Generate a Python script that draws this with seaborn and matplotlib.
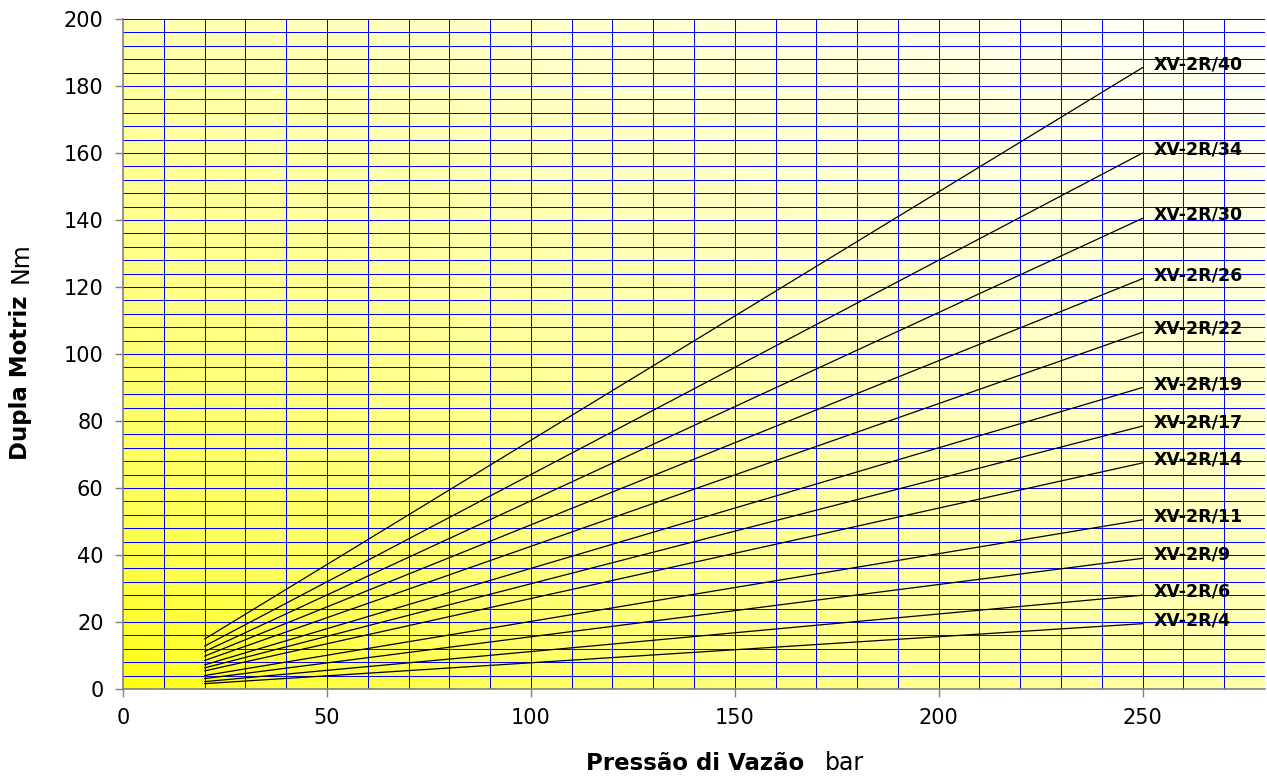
import numpy as np
import pandas as pd
import matplotlib
matplotlib.use("Agg")
import matplotlib.pyplot as plt
from matplotlib.colors import LinearSegmentedColormap
import seaborn as sns

# Values
models = ["XV-2R/4", "XV-2R/6", "XV-2R/9", "XV-2R/11", "XV-2R/14", "XV-2R/17",
          "XV-2R/19", "XV-2R/22", "XV-2R/26", "XV-2R/30", "XV-2R/34", "XV-2R/40"]
pressure = [20, 250]
torque_start = [1.6, 2.2, 3.1, 4.0, 5.4, 6.3, 7.2, 8.5, 9.8, 11.2, 12.8, 14.9]
torque_end = [19.5, 28.0, 39.0, 50.5, 67.5, 78.5, 90.0, 106.5, 122.5, 140.5, 160.0, 185.5]

x_ticks = [0, 50, 100, 150, 200, 250]
y_ticks = [0, 20, 40, 60, 80, 100, 120, 140, 160, 180, 200]

sns.set_style("white")
plt.rcParams["font.family"] = ["DejaVu Sans"]
plt.rcParams["text.color"] = "black"
plt.rcParams["xtick.labelcolor"] = "black"
plt.rcParams["ytick.labelcolor"] = "black"

rows = []
for m, t0, t1 in zip(models, torque_start, torque_end):
    rows.append({"model": m, "pressure": pressure[0], "torque": t0})
    rows.append({"model": m, "pressure": pressure[1], "torque": t1})
df = pd.DataFrame(rows)

fig = plt.figure(figsize=(12.67, 7.78), dpi=100)
ax = fig.add_axes([0.0971, 0.1144, 0.9013, 0.8612])

# yellow -> white diagonal background
gx, gy = np.meshgrid(np.linspace(0, 1, 400), np.linspace(0, 1, 300))
t = ((gx + gy) / 2) ** 0.55
cmap = LinearSegmentedColormap.from_list("yw", ["#ffff00", "#fffffa"])
ax.imshow(t, cmap=cmap, extent=[0, 280, 0, 200], origin="lower",
          aspect="auto", zorder=0, vmin=0, vmax=1)

# grid, crisp 1px blue lines
for gxv in range(10, 290, 10):
    ax.axvline(gxv, color="#0000ff", lw=0.72, zorder=1, antialiased=False, snap=True)
for gyv in range(4, 204, 4):
    ax.axhline(gyv, color="#0000ff", lw=0.72, zorder=1, antialiased=False, snap=True)

sns.lineplot(data=df, x="pressure", y="torque", hue="model",
             palette=["black"] * len(models), lw=0.9, legend=False,
             ax=ax, zorder=3)

for m, t1 in zip(models, torque_end):
    ax.text(pressure[1] + 2.8, t1 + 1, m, fontsize=12.5, fontweight="bold",
            ha="left", va="center", zorder=4)

ax.set_xlim(0, 280)
ax.set_ylim(0, 200)
ax.set_xticks(x_ticks)
ax.set_yticks(y_ticks)
ax.tick_params(axis="both", labelsize=15, direction="out", length=6,
               width=1, color="#808080", pad=8, left=True, bottom=True)
for s in ["top", "right"]:
    ax.spines[s].set_visible(False)
for s in ["left", "bottom"]:
    ax.spines[s].set_color("#808080")
    ax.spines[s].set_linewidth(1.2)
ax.set_xlabel("")
ax.set_ylabel("")

# axis titles: bold part centered on the axis, unit appended
fig.text(0.5485, 0.019, "Pressão di Vazão", fontsize=16.5, fontweight="bold",
         ha="center", va="center")
fig.text(0.651, 0.019, "bar", fontsize=17, ha="left", va="center")
fig.text(0.016, 0.514, "Dupla Motriz", fontsize=16.5, fontweight="bold",
         ha="center", va="center", rotation=90)
fig.text(0.016, 0.636, "Nm", fontsize=17, ha="center", va="bottom", rotation=90)

fig.savefig("out.png", dpi=100)
